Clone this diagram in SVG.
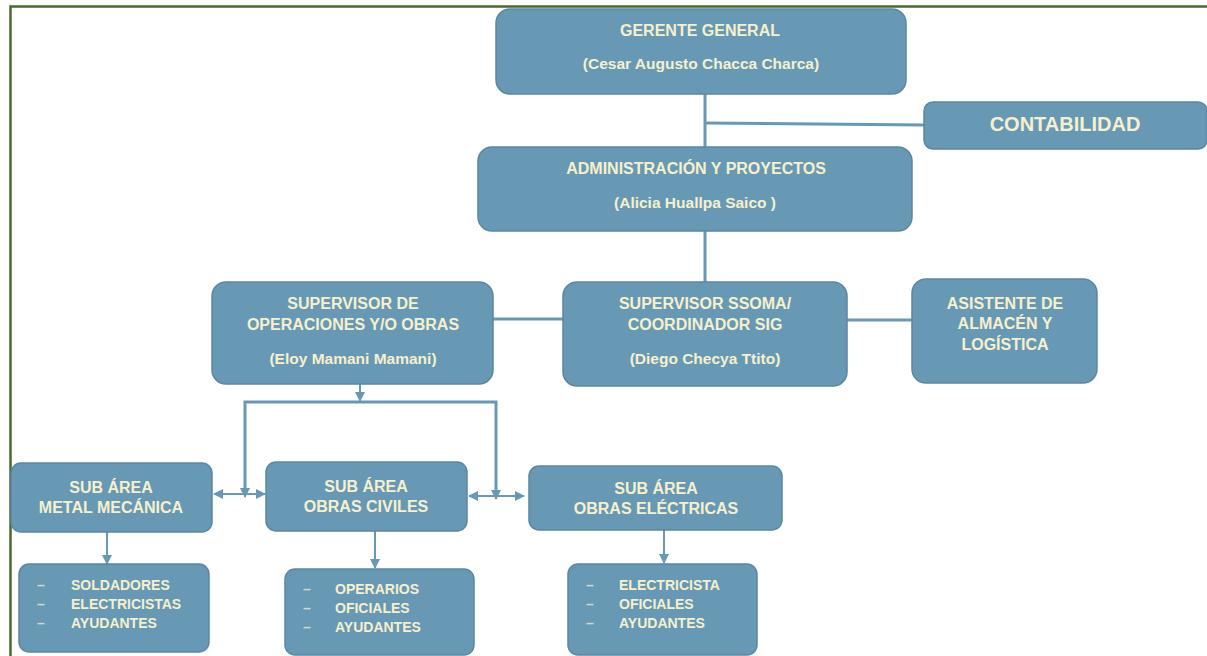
<svg xmlns="http://www.w3.org/2000/svg" width="1207" height="656" viewBox="0 0 1207 656">
<style>
.box{fill:#6799b5;stroke:#5a87a3;stroke-width:1.5}
.t{font-family:"Liberation Sans",Arial,sans-serif;font-weight:bold;fill:#f6f0cc;font-size:16px;text-anchor:middle}
.s{font-size:15.5px}
.l{font-family:"Liberation Sans",Arial,sans-serif;font-weight:bold;fill:#f6f0cc;font-size:14px}
.d{fill:#d8d6c4}
.c{fill:none;stroke:#6799b5;stroke-width:3}
.a{fill:none;stroke:#6799b5;stroke-width:2}
</style>
<defs>
<marker id="ah" viewBox="0 0 10 10" refX="9" refY="5" markerWidth="5" markerHeight="5" orient="auto-start-reverse" markerUnits="strokeWidth">
<path d="M0,0 L10,5 L0,10 z" fill="#6799b5"/>
</marker>
</defs>
<rect x="0" y="0" width="1207" height="656" fill="#ffffff"/>
<path d="M10.5,660 L10.5,6.5 L1210,6.5" fill="none" stroke="#4a6a2c" stroke-width="2.5"/>
<g id="connectors">
<line class="c" x1="705" y1="94" x2="705" y2="147"/>
<line class="c" x1="705" y1="123" x2="924" y2="125"/>
<line class="c" x1="705" y1="231" x2="705" y2="282"/>
<line class="c" x1="493" y1="319" x2="563" y2="319"/>
<line class="c" x1="847" y1="320" x2="912" y2="320"/>
<line class="a" x1="360" y1="384" x2="360" y2="401" marker-end="url(#ah)"/>
<polyline class="c" points="245,490 245,402 496,402 496,490"/>
<line class="a" x1="245" y1="480" x2="245" y2="497" marker-end="url(#ah)"/>
<line class="a" x1="496" y1="480" x2="496" y2="499" marker-end="url(#ah)"/>
<line class="a" x1="214" y1="494" x2="265" y2="494" marker-start="url(#ah)" marker-end="url(#ah)"/>
<line class="a" x1="469" y1="496" x2="524" y2="496" marker-start="url(#ah)" marker-end="url(#ah)"/>
<line class="a" x1="107" y1="532" x2="107" y2="564" marker-end="url(#ah)"/>
<line class="a" x1="375" y1="531" x2="375" y2="568" marker-end="url(#ah)"/>
<line class="a" x1="664" y1="530" x2="664" y2="563" marker-end="url(#ah)"/>
</g>
<g id="gerente">
<rect class="box" x="496" y="9" width="410" height="85" rx="14"/>
<text class="t" x="700" y="36">GERENTE GENERAL</text>
<text class="t s" x="701" y="69">(Cesar Augusto Chacca Charca)</text>
</g>
<g id="contabilidad">
<rect class="box" x="924" y="102" width="283" height="47" rx="9"/>
<text class="t" x="1065" y="131" style="font-size:20px">CONTABILIDAD</text>
</g>
<g id="administracion">
<rect class="box" x="478" y="147" width="434" height="84" rx="14"/>
<text class="t" x="696" y="174">ADMINISTRACIÓN Y PROYECTOS</text>
<text class="t s" x="695" y="208">(Alicia Huallpa Saico )</text>
</g>
<g id="sup-operaciones">
<rect class="box" x="212" y="282" width="281" height="102" rx="14"/>
<text class="t" x="353" y="309">SUPERVISOR DE</text>
<text class="t" x="353" y="330">OPERACIONES Y/O OBRAS</text>
<text class="t s" x="353" y="364">(Eloy Mamani Mamani)</text>
</g>
<g id="sup-ssoma">
<rect class="box" x="563" y="282" width="284" height="104" rx="14"/>
<text class="t" x="705" y="309">SUPERVISOR SSOMA/</text>
<text class="t" x="705" y="330">COORDINADOR SIG</text>
<text class="t s" x="705" y="364">(Diego Checya Ttito)</text>
</g>
<g id="asistente">
<rect class="box" x="912" y="279" width="185" height="104" rx="14"/>
<text class="t" x="1005" y="309">ASISTENTE DE</text>
<text class="t" x="1005" y="329">ALMACÉN Y</text>
<text class="t" x="1005" y="350">LOGÍSTICA</text>
</g>
<g id="sub-metal">
<rect class="box" x="11" y="463" width="201" height="69" rx="10"/>
<text class="t" x="111" y="493">SUB ÁREA</text>
<text class="t" x="111" y="513">METAL MECÁNICA</text>
</g>
<g id="sub-civiles">
<rect class="box" x="266" y="462" width="201" height="69" rx="10"/>
<text class="t" x="366" y="492">SUB ÁREA</text>
<text class="t" x="366" y="512">OBRAS CIVILES</text>
</g>
<g id="sub-electricas">
<rect class="box" x="529" y="466" width="253" height="64" rx="10"/>
<text class="t" x="656" y="494">SUB ÁREA</text>
<text class="t" x="656" y="514">OBRAS ELÉCTRICAS</text>
</g>
<g id="lista-metal">
<rect class="box" x="19" y="564" width="190" height="88" rx="10"/>
<text class="l d" x="37" y="590">–</text><text class="l" x="71" y="590">SOLDADORES</text>
<text class="l d" x="37" y="609">–</text><text class="l" x="71" y="609">ELECTRICISTAS</text>
<text class="l d" x="37" y="628">–</text><text class="l" x="71" y="628">AYUDANTES</text>
</g>
<g id="lista-civiles">
<rect class="box" x="285" y="569" width="189" height="86" rx="10"/>
<text class="l d" x="303" y="594">–</text><text class="l" x="335" y="594">OPERARIOS</text>
<text class="l d" x="303" y="613">–</text><text class="l" x="335" y="613">OFICIALES</text>
<text class="l d" x="303" y="632">–</text><text class="l" x="335" y="632">AYUDANTES</text>
</g>
<g id="lista-electricas">
<rect class="box" x="568" y="564" width="189" height="91" rx="10"/>
<text class="l d" x="586" y="590">–</text><text class="l" x="619" y="590">ELECTRICISTA</text>
<text class="l d" x="586" y="609">–</text><text class="l" x="619" y="609">OFICIALES</text>
<text class="l d" x="586" y="628">–</text><text class="l" x="619" y="628">AYUDANTES</text>
</g>
</svg>
